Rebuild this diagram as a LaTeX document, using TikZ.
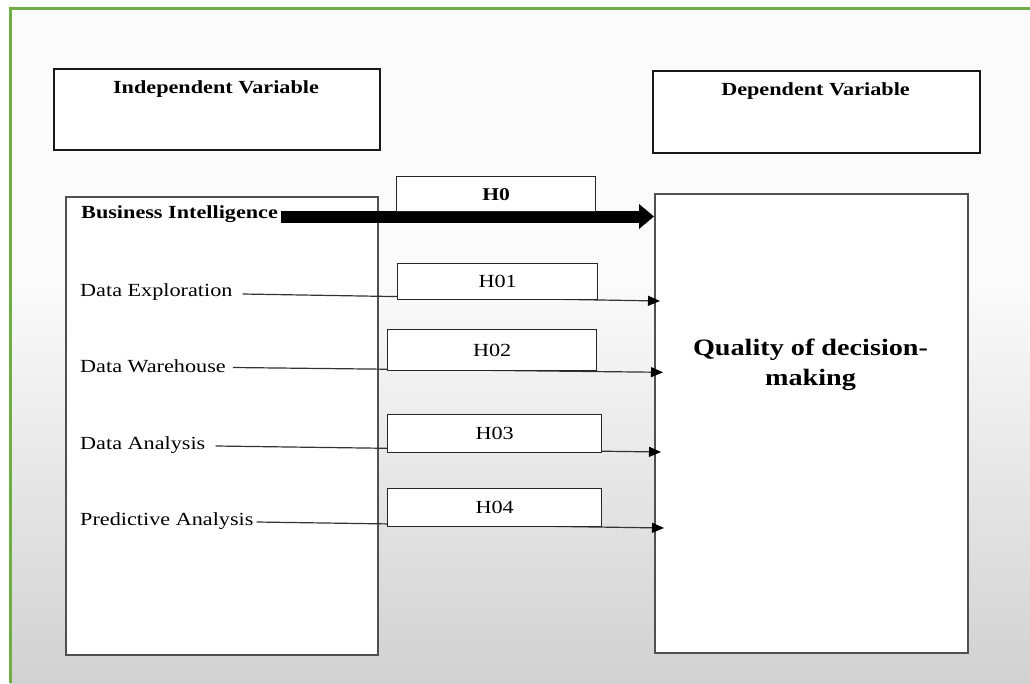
\documentclass[tikz,border=0pt]{standalone}
\usepackage{fontspec}
\setmainfont[FakeStretch=1.2]{Liberation Serif}
\usetikzlibrary{arrows.meta}
\definecolor{frameGreen}{HTML}{70AD47}
\definecolor{boxGray}{HTML}{505050}
\begin{document}
\begin{tikzpicture}[x=1pt,y=-1pt,
  hdrbox/.style={draw=black!90,line width=2pt,fill=white,anchor=north west,inner sep=0pt},
  bigbox/.style={draw=boxGray,line width=1.5pt,fill=white,anchor=north west,inner sep=0pt},
  hbox/.style={draw=black!85,line width=1.3pt,fill=white,anchor=north west,inner sep=0pt,
    font=\fontsize{18.5}{22}\selectfont},
  lbl/.style={inner sep=0pt,anchor=base west,text height=13pt,text depth=4pt,
    font=\fontsize{18.5}{22}\selectfont},
  hdrtxt/.style={inner sep=0pt,anchor=base,font=\bfseries\fontsize{18.5}{22}\selectfont},
  conn/.style={draw=black!80,line width=1.2pt,-{Triangle[length=12pt,width=10pt,color=black]}},
  thick conn/.style={draw=black,line width=12pt,-{Triangle[length=15pt,width=24pt]}},
]
% canvas and background
\useasboundingbox (0,0) rectangle (1030,683);
\fill[white] (0,0) rectangle (1030,683);
\fill[black!1.5] (10,8) rectangle (1030,290);
\shade[top color=black!2,bottom color=black!18] (10,290) rectangle (1030,683);
\draw[frameGreen,line width=3pt] (10,683) -- (10,8) -- (1030,8);

% header boxes
\node[hdrbox,minimum width=326pt,minimum height=81pt] (ivbox) at (53,68) {};
\node[hdrtxt] (ivtxt) at (216,93) {Independent Variable};
\node[hdrbox,minimum width=327pt,minimum height=82pt] (dvbox) at (652,70) {};
\node[hdrtxt] (dvtxt) at (815.5,95) {Dependent Variable};

% big boxes
\node[bigbox,minimum width=312pt,minimum height=458pt] (lbox) at (65,196) {};
\node[bigbox,minimum width=313pt,minimum height=459pt] (qbox) at (654,193) {};
\node[align=center,inner sep=0pt,font=\bfseries\fontsize{23.5}{30}\selectfont] (qtxt) at (810.5,364.5)
  {Quality of decision-\\making};

% labels in the left box
\node[lbl,font=\bfseries\fontsize{18.5}{22}\selectfont] (bi) at (81,218) {Business Intelligence};
\node[lbl] (de) at (80,296) {Data Exploration};
\node[lbl] (dw) at (80,372) {Data Warehouse};
\node[lbl] (da) at (80,449) {Data Analysis};
\node[lbl] (pa) at (80,525) {Predictive Analysis};

% connectors
\draw[thick conn] ([shift={(3pt,-3pt)}]bi.east) -- ([yshift=-3pt]bi.east -| qbox.west);
\draw[conn] ([shift={(10pt,-2.5pt)}]de.east) -- ([shift={(6pt,-9.5pt)}]de.east -| qbox.west);
\draw[conn] ([shift={(7pt,0pt)}]dw.east) -- ([shift={(9pt,-4.8pt)}]dw.east -| qbox.west);
\draw[conn] ([shift={(10pt,-1.5pt)}]da.east) -- ([shift={(7pt,-7.5pt)}]da.east -| qbox.west);
\draw[conn] ([shift={(3pt,-1.5pt)}]pa.east) -- ([shift={(10pt,-7.5pt)}]pa.east -| qbox.west);

% hypothesis boxes
\node[hbox,minimum width=199pt,minimum height=35pt,font=\bfseries\fontsize{18}{22}\selectfont] (h0) at (396,176) {H0};
\node[hbox,minimum width=200pt,minimum height=36pt] (h01) at (397,263) {H01};
\node[hbox,minimum width=209pt,minimum height=41pt] (h02) at (387,329) {H02};
\node[hbox,minimum width=214pt,minimum height=38pt] (h03) at (387,414) {H03};
\node[hbox,minimum width=214pt,minimum height=38pt] (h04) at (387,488) {H04};
\end{tikzpicture}
\end{document}
